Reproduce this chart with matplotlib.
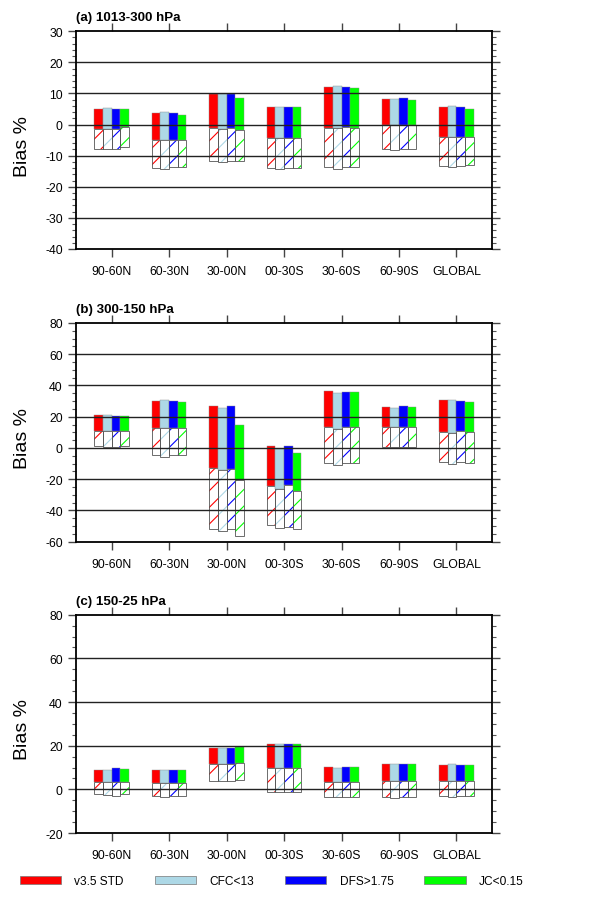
"""Bias % by latitude band for four QC settings, three pressure layers."""

import matplotlib

matplotlib.use("Agg")
import matplotlib.pyplot as plt
from matplotlib.patches import Patch
from matplotlib.ticker import MultipleLocator
import numpy as np

plt.rcParams["font.family"] = ["Liberation Sans", "DejaVu Sans"]
plt.rcParams["hatch.linewidth"] = 0.8
plt.rcParams["axes.unicode_minus"] = False

REGIONS = ["90-60N", "60-30N", "30-00N", "00-30S", "30-60S", "60-90S", "GLOBAL"]
SERIES = ["v3.5 STD", "CFC<13", "DFS>1.75", "JC<0.15"]
COLORS = ["#ff0000", "#add8e6", "#0000ff", "#00ff00"]

# rows = regions, columns = series; top of solid bar, solid/hatched split, bottom of hatched bar
a_top = [[5.1, 5.4, 5.1, 5.0], [3.7, 4.1, 3.7, 3.2], [9.8, 9.8, 9.8, 8.5],
         [5.5, 5.5, 5.5, 5.8], [12.0, 12.3, 12.0, 11.7], [8.3, 8.3, 8.6, 8.0],
         [5.5, 5.9, 5.5, 5.1]]
a_mid = [[-1.3, -1.5, -1.5, -0.9], [-5.0, -5.1, -5.1, -5.1], [-1.2, -1.4, -1.1, -1.8],
         [-4.3, -4.3, -4.3, -4.3], [-1.0, -1.1, -0.8, -1.2], [-0.1, -0.1, -0.1, -0.1],
         [-4.0, -4.0, -4.0, -4.0]]
a_bot = [[-7.9, -7.9, -7.9, -7.3], [-14.1, -14.3, -13.7, -13.7], [-11.8, -12.1, -11.7, -11.7],
         [-14.1, -14.3, -14.1, -14.1], [-13.6, -14.2, -13.6, -13.6], [-8.0, -8.3, -8.0, -8.0],
         [-13.3, -13.6, -13.3, -13.0]]

b_top = [[20.9, 20.9, 20.7, 20.7], [30.1, 30.8, 29.9, 29.7], [26.7, 25.4, 26.7, 14.5],
         [1.5, -0.4, 1.5, -3.4], [36.5, 35.3, 36.1, 36.1], [26.3, 25.6, 26.7, 25.9],
         [30.6, 30.6, 29.9, 29.7]]
b_mid = [[11.1, 11.1, 10.7, 11.1], [13.0, 12.6, 12.6, 12.6], [-12.8, -14.1, -13.2, -20.7],
         [-24.4, -26.1, -23.9, -27.6], [13.2, 12.4, 13.2, 13.2], [13.2, 13.2, 13.5, 13.2],
         [10.5, 9.8, 10.7, 10.0]]
b_bot = [[1.3, 0.6, 0.9, 1.3], [-4.3, -5.6, -4.3, -4.7], [-52.1, -53.4, -52.1, -56.4],
         [-49.6, -51.1, -50.4, -52.1], [-9.8, -10.7, -9.8, -9.8], [0.4, 0.4, 0.4, 0.4],
         [-8.8, -10.3, -9.0, -9.8]]

c_top = [[9.0, 8.7, 9.6, 9.2], [8.9, 8.9, 8.9, 8.7], [18.9, 18.9, 18.9, 19.4],
         [20.6, 20.6, 20.6, 20.6], [10.4, 9.9, 10.4, 10.4], [11.8, 11.8, 11.8, 11.8],
         [11.1, 11.5, 11.1, 11.1]]
c_mid = [[3.4, 3.4, 3.4, 3.4], [3.1, 3.1, 3.1, 3.1], [11.6, 11.6, 11.6, 11.9],
         [9.6, 9.6, 9.8, 9.8], [3.2, 3.2, 3.2, 3.2], [3.8, 3.8, 3.8, 3.8],
         [3.8, 3.8, 3.8, 3.8]]
c_bot = [[-2.3, -2.7, -2.9, -2.3], [-3.2, -3.5, -3.2, -3.2], [4.0, 4.0, 4.0, 4.4],
         [-1.1, -1.4, -1.1, -1.1], [-3.4, -3.7, -3.4, -3.4], [-3.7, -4.1, -3.7, -3.7],
         [-3.2, -3.5, -3.2, -3.2]]

PANELS = [
    ("(a) 1013-300 hPa", a_top, a_mid, a_bot, (-40, 30), 10, 2),
    ("(b) 300-150 hPa", b_top, b_mid, b_bot, (-60, 80), 20, 5),
    ("(c) 150-25 hPa", c_top, c_mid, c_bot, (-20, 80), 20, 5),
]

# axes boxes in figure fraction: left, bottom, width, height
BOXES = [
    (0.1286, 0.7235, 0.704, 0.2408),
    (0.1286, 0.3997, 0.704, 0.2419),
    (0.1286, 0.0774, 0.704, 0.2415),
]


def draw_panel(ax, title, top, mid, bot, ylim, major, minor):
    top, mid, bot = np.array(top).T, np.array(mid).T, np.array(bot).T
    x = np.arange(len(REGIONS))
    width = 0.15
    for j, color in enumerate(COLORS):
        xs = x + (j - 1.5) * width
        # hatched lower part: white face with coloured hatch, then grey outline
        ax.bar(xs, mid[j] - bot[j], width, bottom=bot[j], facecolor="white",
               edgecolor=color, hatch="//", linewidth=0, zorder=2)
        ax.bar(xs, mid[j] - bot[j], width, bottom=bot[j], fill=False,
               edgecolor="#555555", linewidth=0.6, zorder=3)
        # solid upper part
        ax.bar(xs, top[j] - mid[j], width, bottom=mid[j], color=color,
               edgecolor="#888888", linewidth=0.3, zorder=3)

    ax.set_xlim(-0.62, len(REGIONS) - 1 + 0.62)
    ax.set_ylim(*ylim)
    ax.set_xticks(x)
    ax.set_xticklabels(REGIONS)
    ax.yaxis.set_major_locator(MultipleLocator(major))
    ax.yaxis.set_minor_locator(MultipleLocator(minor))
    for v in np.arange(ylim[0] + major, ylim[1], major):
        ax.axhline(v, color="#222222", linewidth=1.0, zorder=5)

    ax.tick_params(axis="x", which="major", direction="out", top=True, bottom=True,
                   length=5.5, width=1.0, pad=6, labelsize=8.8, color="#444444")
    ax.tick_params(axis="y", which="major", direction="out", left=True, right=True,
                   length=5.5, width=1.0, pad=4, labelsize=8.8, color="#444444")
    ax.tick_params(axis="y", which="minor", direction="out", left=True, right=True,
                   length=3, width=0.8, color="#555555")
    for s in ax.spines.values():
        s.set_linewidth(1.3)
        s.set_zorder(6)

    ax.set_ylabel("Bias %", fontsize=14)
    ax.yaxis.set_label_coords(-0.108, 0.477)
    ax.text(0.0, 1.05, title, transform=ax.transAxes, fontsize=9.6,
            fontweight="bold", ha="left", va="baseline")


def main():
    fig = plt.figure(figsize=(5.91, 9.04), dpi=100)
    for box, panel in zip(BOXES, PANELS):
        ax = fig.add_axes(box)
        draw_panel(ax, *panel)

    handles = [Patch(facecolor=c, edgecolor="#777777", linewidth=0.5, label=s)
               for c, s in zip(COLORS, SERIES)]
    fig.legend(handles=handles, loc="center", bbox_to_anchor=(0.46, 1 - 882 / 904),
               ncol=4, frameon=False, fontsize=8.6, handlelength=3.45,
               handleheight=0.67, handletextpad=1.1, columnspacing=2.6)

    fig.savefig("out.png", dpi=100)
    plt.close(fig)


if __name__ == "__main__":
    main()
